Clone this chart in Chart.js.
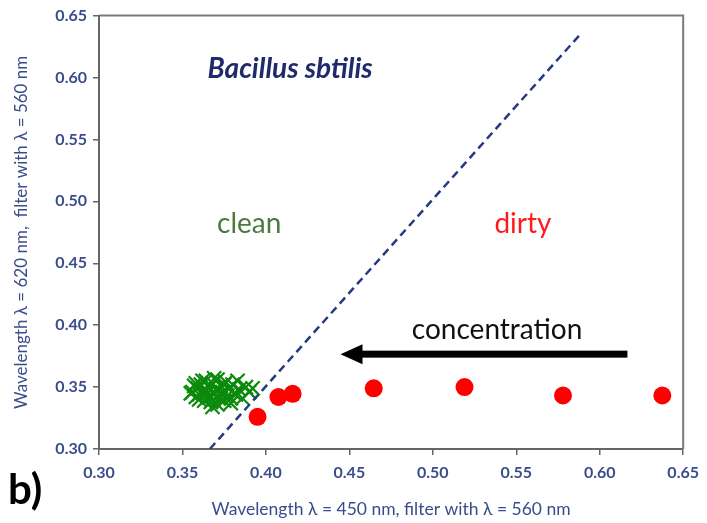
<!DOCTYPE html>
<html>
<head>
<meta charset="utf-8">
<script src="https://cdn.jsdelivr.net/npm/chart.js@4.4.1/dist/chart.umd.min.js"></script>
<style>
  html, body { margin: 0; padding: 0; background: #fff; }
  #wrap { width: 707px; height: 523px; }
</style>
</head>
<body>
<div id="wrap"><canvas id="chart" width="707" height="523"></canvas></div>
<script>
// clean samples (green crosses)
const cleanX = [0.356, 0.357, 0.358, 0.359, 0.360, 0.361, 0.362, 0.363, 0.364, 0.365,
                0.366, 0.367, 0.368, 0.369, 0.370, 0.371, 0.372, 0.373, 0.374, 0.375,
                0.376, 0.377, 0.378, 0.379, 0.380, 0.381, 0.382, 0.384, 0.386, 0.388,
                0.390, 0.362, 0.366, 0.371, 0.375, 0.369, 0.360, 0.373, 0.379, 0.364,
                0.355, 0.392, 0.368, 0.383, 0.358];
const cleanY = [0.346, 0.351, 0.342, 0.349, 0.344, 0.352, 0.347, 0.339, 0.355, 0.345,
                0.350, 0.338, 0.353, 0.344, 0.348, 0.356, 0.341, 0.351, 0.346, 0.339,
                0.354, 0.343, 0.349, 0.337, 0.352, 0.345, 0.344, 0.348, 0.341, 0.350,
                0.346, 0.355, 0.342, 0.336, 0.352, 0.357, 0.340, 0.345, 0.341, 0.348,
                0.345, 0.349, 0.334, 0.355, 0.353];

// dirty samples (red dots)
const dirtyX = [0.395, 0.4075, 0.416, 0.4646, 0.519, 0.578, 0.6375];
const dirtyY = [0.326, 0.342, 0.3446, 0.349, 0.350, 0.3432, 0.3432];

// clean / dirty boundary
const boundaryX = [0.3664, 0.5884];
const boundaryY = [0.300, 0.635];

const tickValues = [0.30, 0.35, 0.40, 0.45, 0.50, 0.55, 0.60, 0.65];

const toPoints = (xs, ys) => xs.map((x, i) => ({ x: x, y: ys[i] }));

const FONT = 'Lato, "Open Sans", sans-serif';
const AXIS_BLUE = '#3a4c8c';

// frame, arrow and in-plot labels
const decorations = {
  id: 'decorations',
  afterDatasetsDraw(chart) {
    const { ctx, chartArea, scales: { x, y } } = chart;
    ctx.save();

    // top / right frame
    ctx.strokeStyle = '#7a7a7a';
    ctx.lineWidth = 2;
    ctx.beginPath();
    ctx.moveTo(chartArea.left, chartArea.top);
    ctx.lineTo(chartArea.right, chartArea.top);
    ctx.lineTo(chartArea.right, chartArea.bottom);
    ctx.stroke();

    // concentration arrow
    const tipX = x.getPixelForValue(0.4447);
    const tailX = x.getPixelForValue(0.6166);
    const ay = y.getPixelForValue(0.3766);
    ctx.fillStyle = '#000';
    ctx.fillRect(tipX + 18, ay - 3.5, tailX - tipX - 18, 7);
    ctx.beginPath();
    ctx.moveTo(tipX, ay);
    ctx.lineTo(tipX + 22, ay - 10);
    ctx.lineTo(tipX + 22, ay + 10);
    ctx.closePath();
    ctx.fill();

    ctx.textAlign = 'center';
    ctx.textBaseline = 'middle';

    ctx.fillStyle = '#1f2a6b';
    ctx.font = 'italic bold 28px ' + FONT;
    ctx.fillText('Bacillus sbtilis', x.getPixelForValue(0.4145), y.getPixelForValue(0.6065));

    ctx.font = '28px ' + FONT;
    ctx.fillStyle = '#4b7a3a';
    ctx.fillText('clean', x.getPixelForValue(0.390), y.getPixelForValue(0.482));
    ctx.fillStyle = '#ff1a1a';
    ctx.fillText('dirty', x.getPixelForValue(0.554), y.getPixelForValue(0.482));
    ctx.fillStyle = '#111';
    ctx.fillText('concentration', x.getPixelForValue(0.5385), y.getPixelForValue(0.3963));

    // panel letter
    ctx.textAlign = 'left';
    ctx.fillStyle = '#000';
    ctx.font = 'bold 42px ' + FONT;
    ctx.fillText('b)', 8, 490);

    ctx.restore();
  }
};

const axisStyle = {
  min: 0.30,
  max: 0.65,
  afterBuildTicks: scale => { scale.ticks = tickValues.map(v => ({ value: v })); },
  grid: { display: true, drawOnChartArea: false, drawTicks: true, tickLength: 6, color: '#666', lineWidth: 1.5 },
  border: { display: true, color: '#666', width: 2 },
  ticks: {
    color: AXIS_BLUE,
    font: { family: FONT, size: 16, weight: 'bold' },
    callback: v => Number(v).toFixed(2)
  }
};

new Chart(document.getElementById('chart'), {
  type: 'scatter',
  data: {
    datasets: [
      {
        label: 'dirty',
        data: toPoints(dirtyX, dirtyY),
        pointStyle: 'circle',
        pointRadius: 9,
        pointBackgroundColor: '#ff0000',
        pointBorderWidth: 0
      },
      {
        label: 'boundary',
        data: toPoints(boundaryX, boundaryY),
        showLine: true,
        pointRadius: 0,
        borderColor: '#263a80',
        borderWidth: 2.5,
        borderDash: [8, 5]
      },
      {
        label: 'clean',
        data: toPoints(cleanX, cleanY),
        pointStyle: 'crossRot',
        pointRadius: 10,
        pointBorderColor: '#0b8a0b',
        pointBorderWidth: 2.2
      }
    ]
  },
  options: {
    responsive: false,
    animation: false,
    layout: { padding: { left: 0, right: 21, top: 12, bottom: 0 } },
    plugins: { legend: { display: false }, tooltip: { enabled: false } },
    scales: {
      x: {
        ...axisStyle,
        ticks: { ...axisStyle.ticks, padding: 8, maxRotation: 0 },
        afterFit: s => { s.height = 74; },
        title: {
          display: true,
          text: 'Wavelength λ = 450 nm, filter with λ = 560 nm',
          color: AXIS_BLUE,
          font: { family: FONT, size: 17.5 },
          padding: { top: 0, bottom: 3.5 }
        }
      },
      y: {
        ...axisStyle,
        ticks: { ...axisStyle.ticks, padding: 6 },
        afterFit: s => { s.width = 99; },
        title: {
          display: true,
          text: 'Wavelength λ = 620 nm,  filter with λ = 560 nm',
          color: AXIS_BLUE,
          font: { family: FONT, size: 17 },
          padding: { top: 11.5, bottom: 0 }
        }
      }
    }
  },
  plugins: [decorations]
});
</script>
</body>
</html>
